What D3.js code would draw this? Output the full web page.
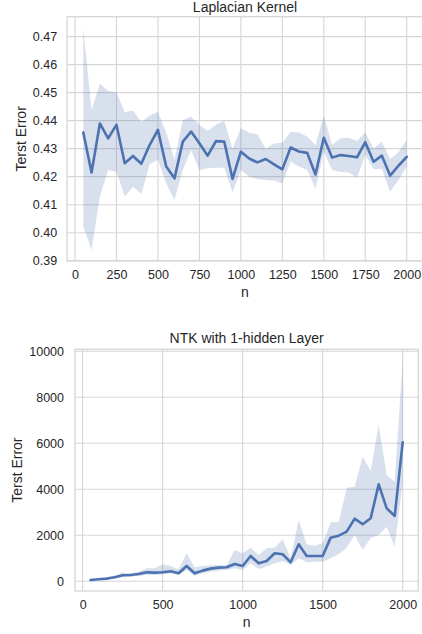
<!DOCTYPE html>
<html>
<head>
<meta charset="utf-8">
<script src="https://cdn.jsdelivr.net/npm/d3@7"></script>
<style>
  html, body { margin: 0; padding: 0; background: #ffffff; }
  svg { display: block; }
  text { font-family: Arial, "Liberation Sans", Helvetica, sans-serif; fill: #262626; }
</style>
</head>
<body>
<svg id="chart" width="422" height="634"></svg>
<script>
// ---------------- data ----------------
const nValues = [50,100,150,200,250,300,350,400,450,500,550,600,650,700,750,800,850,900,950,1000,
                 1050,1100,1150,1200,1250,1300,1350,1400,1450,1500,1550,1600,1650,1700,1750,1800,1850,1900,1950,2000];

const laplaceMean = [0.4358,0.4215,0.4390,0.4337,0.4385,0.4248,0.4274,0.4246,0.4313,0.4367,
                     0.4236,0.4194,0.4325,0.4361,0.4319,0.4275,0.4327,0.4325,0.4192,0.4289,
                     0.4265,0.4251,0.4263,0.4244,0.4226,0.4304,0.4290,0.4285,0.4208,0.4339,
                     0.4268,0.4277,0.4274,0.4269,0.4323,0.4253,0.4275,0.4204,0.4239,0.4271];
const laplaceUpper = [0.4730,0.4438,0.4533,0.4506,0.4501,0.4430,0.4436,0.4394,0.4418,0.4432,
                      0.4358,0.4260,0.4401,0.4414,0.4385,0.4363,0.4385,0.4399,0.4300,0.4373,
                      0.4357,0.4351,0.4300,0.4318,0.4321,0.4360,0.4358,0.4343,0.4313,0.4418,
                      0.4313,0.4337,0.4339,0.4327,0.4358,0.4301,0.4325,0.4263,0.4287,0.4331];
const laplaceLower = [0.4021,0.3938,0.4129,0.4224,0.4218,0.4129,0.4164,0.4138,0.4244,0.4260,
                      0.4176,0.4117,0.4224,0.4295,0.4224,0.4230,0.4232,0.4232,0.4144,0.4224,
                      0.4200,0.4192,0.4188,0.4186,0.4176,0.4254,0.4236,0.4224,0.4157,0.4289,
                      0.4224,0.4218,0.4215,0.4196,0.4277,0.4227,0.4227,0.4146,0.4188,0.4236];

const ntkMean = [58,87,116,174,261,275,319,391,377,391,
                 435,348,667,348,464,551,594,609,753,667,
                 1101,782,884,1217,1174,826,1608,1101,1101,1101,
                 1898,1985,2159,2724,2478,2739,4217,3173,2840,6042];
const ntkUpper = [80,110,150,230,377,348,420,565,565,739,
                  667,522,1217,609,667,696,710,710,1362,1217,
                  1463,1145,1435,1463,1826,1000,2666,1608,1550,1652,
                  2565,2565,4072,4115,5419,4796,6796,4622,4333,9621];
const ntkLower = [40,65,90,130,174,203,232,275,275,290,
                  348,275,493,232,348,420,464,493,565,493,
                  782,536,638,782,884,710,1000,826,855,855,
                  1000,1174,1463,2014,1362,1869,2014,2376,1507,4303];

const laplaceXTicks = [0,250,500,750,1000,1250,1500,1750,2000];
const laplaceYTicks = [0.39,0.40,0.41,0.42,0.43,0.44,0.45,0.46,0.47];
const ntkXTicks = [0,500,1000,1500,2000];
const ntkYTicks = [0,2000,4000,6000,8000,10000];

const titles = ["Laplacian Kernel", "NTK with 1-hidden Layer"];
const xLabel = "n";
const yLabel = "Terst Error";

// ---------------- drawing ----------------
const svg = d3.select("#chart");
const blue = "#4c72b0";
const gridColor = "#d6d6d6";

function panel(cfg) {
  const x = d3.scaleLinear().domain(cfg.xDomain).range([cfg.left, cfg.right]);
  const y = d3.scaleLinear().domain(cfg.yDomain).range([cfg.bottom, cfg.top]);
  const g = svg.append("g");

  // grid
  g.append("g").selectAll("line.vx").data(cfg.xTicks).join("line")
    .attr("x1", d => x(d)).attr("x2", d => x(d))
    .attr("y1", cfg.top).attr("y2", cfg.bottom)
    .attr("stroke", gridColor).attr("stroke-width", 1.1);
  g.append("g").selectAll("line.hy").data(cfg.yTicks).join("line")
    .attr("x1", cfg.left).attr("x2", cfg.right)
    .attr("y1", d => y(d)).attr("y2", d => y(d))
    .attr("stroke", gridColor).attr("stroke-width", 1.1);

  const rows = cfg.n.map((n, i) => ({n, m: cfg.mean[i], lo: cfg.lower[i], hi: cfg.upper[i]}));

  // band
  const area = d3.area().x(d => x(d.n)).y0(d => y(d.lo)).y1(d => y(d.hi));
  g.append("path").datum(rows).attr("d", area)
    .attr("fill", blue).attr("fill-opacity", 0.22).attr("stroke", "none");

  // line
  const line = d3.line().x(d => x(d.n)).y(d => y(d.m));
  g.append("path").datum(rows).attr("d", line)
    .attr("fill", "none").attr("stroke", blue).attr("stroke-width", 2.6)
    .attr("stroke-linejoin", "round").attr("stroke-linecap", "round");

  // frame
  g.append("rect").attr("x", cfg.left).attr("y", cfg.top)
    .attr("width", cfg.right - cfg.left).attr("height", cfg.bottom - cfg.top)
    .attr("fill", "none").attr("stroke", gridColor).attr("stroke-width", 1.3);

  // axes (via d3 axis generators, styled)
  const xAxis = d3.axisBottom(x).tickValues(cfg.xTicks).tickSize(0).tickPadding(9)
    .tickFormat(d3.format("d"));
  const xg = g.append("g").attr("transform", `translate(0,${cfg.bottom})`).call(xAxis);
  xg.select(".domain").remove();
  xg.selectAll("text").attr("font-size", "12.5px").attr("fill", "#262626")
    .attr("font-family", "Arial, 'Liberation Sans', sans-serif");

  const yAxis = d3.axisLeft(y).tickValues(cfg.yTicks).tickSize(0).tickPadding(cfg.yPad)
    .tickFormat(cfg.yFormat);
  const yg = g.append("g").attr("transform", `translate(${cfg.left},0)`).call(yAxis);
  yg.select(".domain").remove();
  yg.selectAll("text").attr("font-size", "12.5px").attr("fill", "#262626")
    .attr("font-family", "Arial, 'Liberation Sans', sans-serif");

  // labels
  const cx = (cfg.left + Math.min(cfg.right, 422)) / 2;
  g.append("text").attr("x", (cfg.left + cfg.right) / 2).attr("y", cfg.titleY)
    .attr("text-anchor", "middle").attr("font-size", "14px").text(cfg.title);
  g.append("text").attr("x", (cfg.left + cfg.right) / 2).attr("y", cfg.bottom + 36)
    .attr("text-anchor", "middle").attr("font-size", "14px").text(xLabel);
  g.append("text")
    .attr("transform", `translate(${cfg.yLabelX},${(cfg.top + cfg.bottom) / 2}) rotate(-90)`)
    .attr("text-anchor", "middle").attr("font-size", "14px").text(yLabel);
}

panel({
  n: nValues, mean: laplaceMean, lower: laplaceLower, upper: laplaceUpper,
  xDomain: [-47.5, 2097.5], yDomain: [0.3899, 0.4771],
  left: 67.1, right: 422.9, top: 16.7, bottom: 261,
  xTicks: laplaceXTicks, yTicks: laplaceYTicks,
  yFormat: d3.format(".2f"), yPad: 10,
  title: titles[0], titleY: 11.5, yLabelX: 25.5
});

panel({
  n: nValues, mean: ntkMean, lower: ntkLower, upper: ntkUpper,
  xDomain: [-47.5, 2097.5], yDomain: [-422, 10087],
  left: 75, right: 418.3, top: 349.3, bottom: 591,
  xTicks: ntkXTicks, yTicks: ntkYTicks,
  yFormat: d3.format("d"), yPad: 11,
  title: titles[1], titleY: 343, yLabelX: 21.5
});
</script>
</body>
</html>
